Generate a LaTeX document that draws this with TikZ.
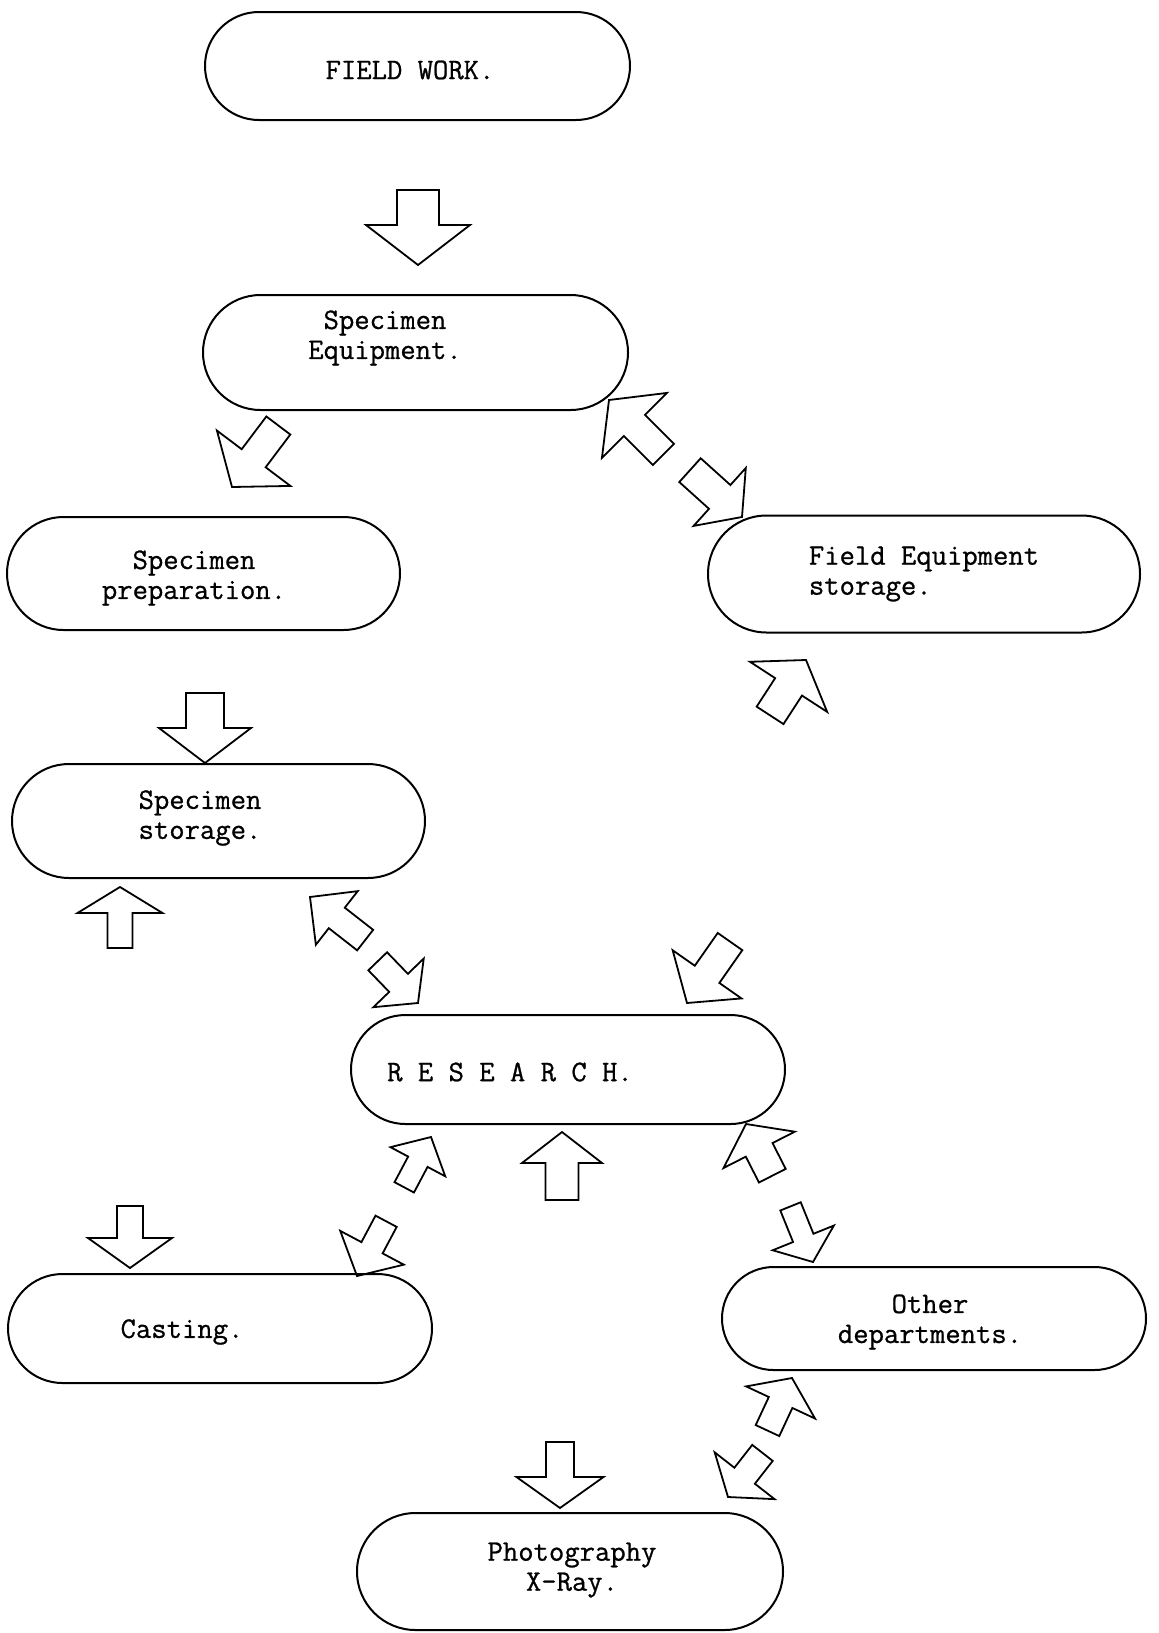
\documentclass[tikz,border=0pt]{standalone}
\usepackage{fontspec}
\newfontfamily\typewriter{Latin Modern Mono}[FakeBold=0.8]
\usetikzlibrary{shapes.misc}

\tikzset{
  box/.style={rounded rectangle, draw, line width=1pt, inner sep=0pt},
  words/.style={font=\typewriter\fontsize{14.9}{15}\selectfont, align=center, inner sep=0pt},
  % hollow block arrow, tip at the origin, pointing along +x
  % #1 length, #2 head length, #3 half shaft, #4 half head
  pics/blockarrow/.style n args={4}{code={
    \draw[line width=0.9pt, line join=miter]
      (0,0) -- (-#2,#4) -- (-#2,#3) -- (-#1,#3) -- (-#1,-#3)
      -- (-#2,-#3) -- (-#2,-#4) -- cycle;
  }}
}

\begin{document}
\begin{tikzpicture}[x=0.5pt, y=-0.5pt]

\useasboundingbox (0,0) rectangle (1158,1633);

% the boxes
\node[box, minimum width=212.5pt, minimum height=54pt] (field) at (417.5,66) {};
\node[box, minimum width=212.5pt, minimum height=57.5pt] (equip) at (415.5,352.5) {};
\node[box, minimum width=196.5pt, minimum height=56.5pt] (prep) at (203.5,573.5) {};
\node[box, minimum width=216pt, minimum height=58.5pt] (fieldstore) at (924,574) {};
\node[box, minimum width=206.5pt, minimum height=57pt] (store) at (218.5,821) {};
\node[box, minimum width=217pt, minimum height=54.5pt] (research) at (568,1069.5) {};
\node[box, minimum width=212pt, minimum height=54.5pt] (casting) at (220,1328.5) {};
\node[box, minimum width=212pt, minimum height=51.5pt] (other) at (934,1318.5) {};
\node[box, minimum width=213pt, minimum height=58.5pt] (photo) at (570,1571.5) {};

% the typed labels
\node[words] (fieldtext) at (410,70) {FIELD WORK.};
\node[words] (equiptext) at (385,338) {Specimen\\Equipment.};
\node[words] (preptext) at (194,578) {Specimen\\preparation.};
\node[words, align=left] (fieldstoretext) at (924,574) {Field Equipment\\storage.};
\node[words] (storetext) at (200,818) {Specimen\\storage.};
\node[words] (researchtext) at (510,1072) {R E S E A R C H.};
\node[words] (castingtext) at (182,1332) {Casting.};
\node[words] (othertext) at (930,1322) {Other\\departments.};
\node[words] (phototext) at (572,1570) {Photography\\X-Ray.};

% the arrows
\pic[rotate=-90] at (418,265) {blockarrow={75}{40}{21}{52}};
\pic[rotate=-127] at (232,487) {blockarrow={77}{36}{15}{46}};
\pic[rotate=135] at (609,400) {blockarrow={77}{36}{15}{46}};
\pic[rotate=-42] at (742,517) {blockarrow={70}{30}{16}{39}};
\pic[rotate=-90] at (205,763) {blockarrow={70}{35}{19}{46}};
\pic[rotate=57] at (806,660) {blockarrow={66}{32}{16}{46}};
\pic[rotate=90] at (120,887) {blockarrow={61}{26}{12.5}{42.5}};
\pic[rotate=142] at (310,897) {blockarrow={70}{34}{13}{34}};
\pic[rotate=-46] at (418,1003) {blockarrow={58}{28}{13}{35}};
\pic[rotate=-125] at (687,1003) {blockarrow={75}{35}{15}{42}};
\pic[rotate=62] at (431,1137) {blockarrow={57}{28}{11}{31}};
\pic[rotate=-118] at (357,1276) {blockarrow={62}{32}{12}{36}};
\pic[rotate=90] at (562,1132) {blockarrow={68}{31}{16.5}{40}};
\pic[rotate=-90] at (130,1268) {blockarrow={62}{30}{13}{42}};
\pic[rotate=117] at (746,1124) {blockarrow={58}{29}{15}{40}};
\pic[rotate=-68] at (813,1262) {blockarrow={60}{26}{11}{33}};
\pic[rotate=-90] at (560,1508) {blockarrow={66}{31}{14}{43.5}};
\pic[rotate=-128] at (728,1497) {blockarrow={56}{27}{13}{38}};
\pic[rotate=65] at (792,1378) {blockarrow={58}{27}{13}{38}};

\end{tikzpicture}
\end{document}
